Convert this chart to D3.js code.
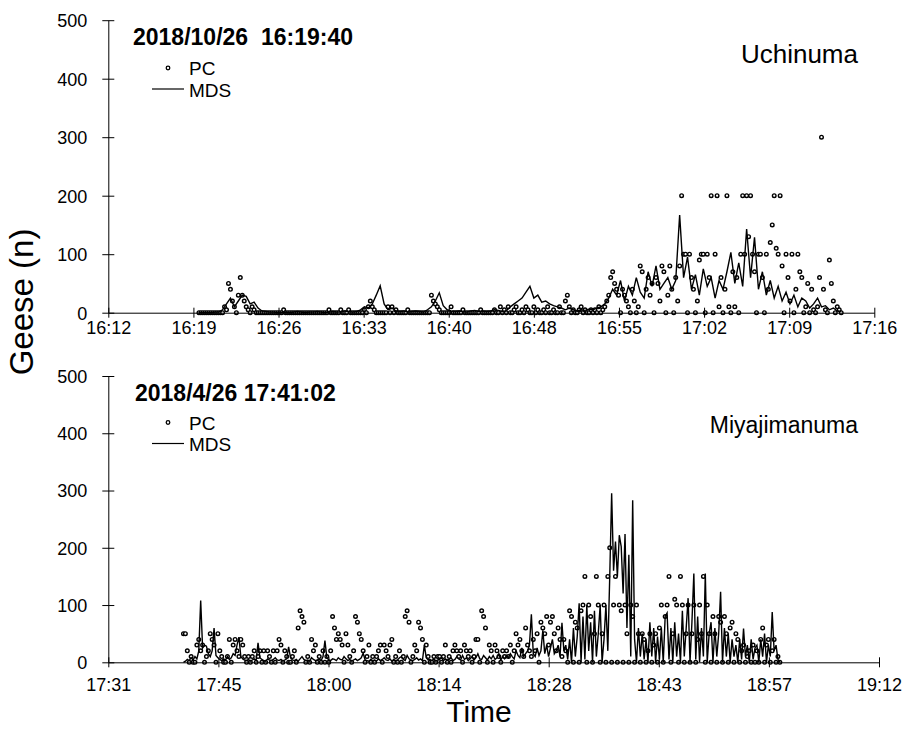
<!DOCTYPE html>
<html><head><meta charset="utf-8">
<script src="https://cdn.jsdelivr.net/npm/d3@7"></script>
<style>body{margin:0;background:#fff}svg{display:block}</style>
</head><body><svg id="c" width="903" height="729"></svg>
<script>
// ---------- DATA ----------
// Tick values (minutes after midnight) and labels
const topTickValues = [972, 979.2, 986.4, 993.6, 1000.8, 1008, 1015.2, 1022.4, 1029.6, 1036.8];
const topTickLabels = ["16:12","16:19","16:26","16:33","16:40","16:48","16:55","17:02","17:09","17:16"];
const botTickValues = [1051.2, 1065.6, 1080, 1094.4, 1108.8, 1123.2, 1137.6, 1152];
const botTickLabels = ["17:31","17:45","18:00","18:14","18:28","18:43","18:57","19:12"];
const yTickValues = [0, 100, 200, 300, 400, 500];

// Uchinuma, 2018/10/26 start 16:19:40; PC every 10 s, MDS every 20 s
const topStartMin = 979 + 40 / 60;
const topPCStepMin = 10 / 60;
const topMDSStepMin = 20 / 60;
const topPC = [
 0,0,0,0,0,0,0,0,0,0,0,0,
 0,10,5,50,40,20,10,0,30,60,30,20,10,5,0,10,5,0,0,
 0,0,0,0,0,0,0,0,0,0,0,0,5,0,0,0,0,0,0,0,0,0,0,0,0,0,0,0,0,0,0,0,0,0,0,5,0,0,0,0,0,5,0,0,0,5,0,0,0,0,0,
 0,0,5,0,10,20,10,5,0,0,0,0,0,0,10,0,10,0,5,
 0,0,0,0,0,5,0,0,0,0,0,0,0,0,0,0,0,
 30,20,15,10,5,0,0,
 0,0,0,10,0,0,0,0,0,5,0,0,0,0,0,0,0,0,5,0,0,0,0,0,0,
 5,0,0,10,0,5,0,10,0,0,5,10,0,0,5,0,10,5,0,0,10,0,5,0,0,5,0,10,0,0,5,0,0,10,0,0,
 20,30,10,
 0,5,0,0,5,10,0,5,0,0,5,0,5,0,10,0,5,
 10,20,30,60,70,50,40,30,0,40,30,20,10,0,40,20,0,10,80,70,
 0,40,60,30,50,0,60,50,20,80,70,0,30,80,40,0,60,20,80,200,
 100,100,0,100,60,40,0,20,90,100,100,0,100,60,200,0,100,200,10,60,
 0,40,200,10,0,70,10,60,0,100,200,100,200,130,200,100,70,0,100,100,
 60,0,100,40,120,150,200,110,100,200,80,0,100,60,20,100,0,40,100,70,
 60,0,10,50,0,40,5,0,10,60,300,40,5,0,90,50,20,0,10,5,0
];
const topMDS = [
 0,0,0,0,1,1,
 5,15,25,10,20,30,28,15,18,8,
 3,2,1,1,0,0,1,0,1,2,1,0,1,1,2,1,0,1,2,1,1,3,2,1,2,
 5,10,8,15,30,46,15,5,8,3,
 2,3,1,2,3,2,1,
 5,10,20,34,12,5,3,
 2,3,2,1,3,4,2,3,2,3,5,4,2,3,
 10,15,20,25,35,45,25,30,18,20,15,12,10,8,
 5,8,5,3,5,4,6,5,8,10,
 15,25,40,30,55,20,45,30,60,35,25,70,45,80,40,50,60,40,55,
 167,60,95,40,65,30,75,45,60,25,55,40,70,103,50,85,45,143,60,129,
 40,70,30,55,25,45,20,35,15,30,10,25,20,8,15,25,10,12,5,8,3,2
];

// Miyajimanuma, 2018/4/26 start 17:41:02; PC and MDS every 15 s
const botStartMin = 1061 + 2 / 60;
const botStepMin = 15 / 60;
const botPC = [
 50,50,20,0,10,0,0,30,40,20,
 30,0,10,20,50,40,30,0,50,20,
 10,0,0,10,40,0,30,40,20,10,
 40,30,10,0,10,0,10,20,0,10,
 20,0,20,0,20,10,0,20,0,20,
 40,30,0,20,10,0,0,10,20,0,
 60,90,80,70,0,10,0,40,20,30,
 0,10,0,20,0,10,0,20,80,60,
 40,50,40,30,0,50,30,10,0,20,
 80,70,50,40,20,0,10,30,0,10,
 0,10,20,30,0,30,20,10,30,40,
 0,10,0,20,0,10,80,90,70,0,
 10,30,20,70,60,40,0,30,10,0,
 0,10,0,10,10,0,10,30,0,10,
 0,20,30,20,10,20,0,30,20,10,
 20,0,10,40,40,0,90,80,60,0,
 30,20,0,30,20,10,0,20,10,20,
 10,30,0,20,50,30,40,20,10,60,
 30,20,10,40,20,50,0,70,60,50,
 80,30,70,80,50,20,60,40,10,40,
 20,0,90,80,0,70,60,0,90,100,
 150,0,100,80,0,50,150,100,0,50,
 100,0,150,200,0,100,150,0,100,90,
 0,100,50,0,100,80,0,100,50,0,
 50,40,0,20,50,0,30,50,0,60,
 100,0,80,100,150,0,50,110,100,0,
 150,100,0,50,100,0,50,100,0,40,
 100,50,150,0,100,50,0,80,50,0,
 80,70,0,80,50,0,60,70,0,50,
 40,0,20,30,0,10,20,0,30,0,
 20,0,40,60,0,30,40,0,20,40,0,10,0
];
const botMDS = [
 0,2,5,3,8,4,10,6,20,108,
 25,30,28,15,10,20,60,12,8,5,
 3,6,4,10,5,8,15,12,30,44,
 10,6,4,3,5,2,4,6,3,34,
 8,5,3,2,6,4,3,5,8,4,
 3,5,2,4,6,27,8,4,3,5,
 2,6,10,5,3,4,2,8,5,3,
 4,6,3,10,38,8,4,3,6,5,
 3,8,5,4,10,6,3,5,2,4,
 6,3,5,8,16,4,3,2,5,3,
 4,2,6,3,5,8,4,3,6,2,
 5,3,4,8,10,5,3,12,6,4,
 3,5,8,4,6,3,30,8,4,5,
 3,6,2,4,5,8,3,6,4,5,
 8,3,5,10,6,4,12,5,8,3,
 6,10,4,8,15,6,5,12,8,4,
 10,6,12,5,8,15,4,10,6,12,
 8,15,10,6,20,12,8,25,10,15,
 20,30,84,15,10,25,12,20,56,15,
 30,10,25,40,15,20,30,10,69,20,
 30,5,40,0,60,10,45,103,0,80,
 5,100,20,70,0,90,10,50,100,0,
 40,100,20,150,295,160,211,150,222,202,
 120,224,60,188,10,283,40,0,60,10,
 50,5,40,0,70,10,60,0,45,5,
 60,0,80,86,5,60,0,70,10,50,
 0,90,10,60,112,0,70,155,5,80,
 0,60,10,155,0,50,70,0,60,10,
 50,123,0,60,10,50,0,40,10,30,
 0,40,5,59,10,30,0,40,5,25,
 30,0,40,10,50,0,30,10,88,20,
 30,5,0
];

// ---------- DRAW ----------
const F = '"Liberation Sans", Arial, Helvetica, sans-serif';
const svg = d3.select("#c");

function panel(o) {
  const x = d3.scaleLinear().domain(o.xDomain).range([o.left, o.right]);
  const y = d3.scaleLinear().domain([0, 500]).range([o.bottom, o.top]);
  const g = svg.append("g");

  // PC points
  g.append("g").selectAll("circle").data(o.pc).join("circle")
    .attr("cx", (d, i) => x(o.pcStart + i * o.pcStep))
    .attr("cy", d => y(d))
    .attr("r", 1.8)
    .attr("fill", "#fff").attr("stroke", "#000").attr("stroke-width", 1.4);

  // MDS line
  const line = d3.line()
    .x((d, i) => x(o.mdsStart + i * o.mdsStep))
    .y(d => y(d));
  g.append("path").datum(o.mds).attr("d", line)
    .attr("fill", "none").attr("stroke", "#000").attr("stroke-width", 1.4);

  // X axis
  const xa = g.append("g").attr("transform", `translate(0,${o.bottom})`)
    .call(d3.axisBottom(x).tickValues(o.xTicks).tickFormat((d, i) => o.xLabels[i]).tickSizeOuter(0));
  xa.select(".domain").attr("stroke", "#000");
  xa.selectAll(".tick line").attr("y1", -5).attr("y2", 5).attr("stroke", "#000");
  xa.selectAll(".tick text").attr("y", o.xLabelY).attr("dy", 0)
    .attr("font-size", 18).attr("font-family", F).attr("fill", "#000");

  // Y axis
  const ya = g.append("g").attr("transform", `translate(${o.left},0)`)
    .call(d3.axisLeft(y).tickValues(yTickValues).tickFormat(d3.format("d")).tickSizeOuter(0));
  ya.select(".domain").attr("stroke", "#000");
  ya.selectAll(".tick line").attr("x1", -6).attr("x2", 6).attr("stroke", "#000");
  ya.selectAll(".tick text").attr("x", -21).attr("dy", "0.35em")
    .attr("font-size", 18).attr("font-family", F).attr("fill", "#000");

  // Title
  g.append("text").attr("x", o.titleX).attr("y", o.titleY)
    .attr("font-family", F).attr("font-weight", "bold").attr("font-size", 23)
    .style("white-space", "pre").text(o.title);

  // Site name
  g.append("text").attr("x", 858).attr("y", o.siteY).attr("text-anchor", "end")
    .attr("font-family", F).attr("font-size", o.siteSize).text(o.site);

  // Legend
  g.append("circle").attr("cx", 168).attr("cy", o.legY).attr("r", 1.8)
    .attr("fill", "#fff").attr("stroke", "#000").attr("stroke-width", 1.3);
  g.append("text").attr("x", 189).attr("y", o.legY + 7).attr("font-family", F).attr("font-size", 19).text("PC");
  g.append("line").attr("x1", 152).attr("x2", 184).attr("y1", o.legY + 21).attr("y2", o.legY + 21)
    .attr("stroke", "#000").attr("stroke-width", 1.2);
  g.append("text").attr("x", 189).attr("y", o.legY + 28.5).attr("font-family", F).attr("font-size", 19).text("MDS");
}

panel({
  xDomain: [972, 1036.8], left: 108.3, right: 874.3, top: 20.2, bottom: 312.7,
  xTicks: topTickValues, xLabels: topTickLabels, xLabelY: 21,
  pc: topPC, pcStart: topStartMin, pcStep: topPCStepMin,
  mds: topMDS, mdsStart: topStartMin, mdsStep: topMDSStepMin,
  title: "2018/10/26  16:19:40", titleX: 133, titleY: 45,
  site: "Uchinuma", siteY: 63, siteSize: 26,
  legY: 68
});

panel({
  xDomain: [1051.2, 1152], left: 108.3, right: 879, top: 376, bottom: 662.3,
  xTicks: botTickValues, xLabels: botTickLabels, xLabelY: 28.7,
  pc: botPC, pcStart: botStartMin, pcStep: botStepMin,
  mds: botMDS, mdsStart: botStartMin, mdsStep: botStepMin,
  title: "2018/4/26 17:41:02", titleX: 135, titleY: 400.5,
  site: "Miyajimanuma", siteY: 433, siteSize: 23,
  legY: 422.5
});

// Axis titles
svg.append("text").attr("transform", "translate(33,302) rotate(-90)").attr("text-anchor", "middle")
  .attr("font-family", F).attr("font-size", 33).text("Geese (n)");
svg.append("text").attr("x", 479).attr("y", 722).attr("text-anchor", "middle")
  .attr("font-family", F).attr("font-size", 30).text("Time");
</script></body></html>
